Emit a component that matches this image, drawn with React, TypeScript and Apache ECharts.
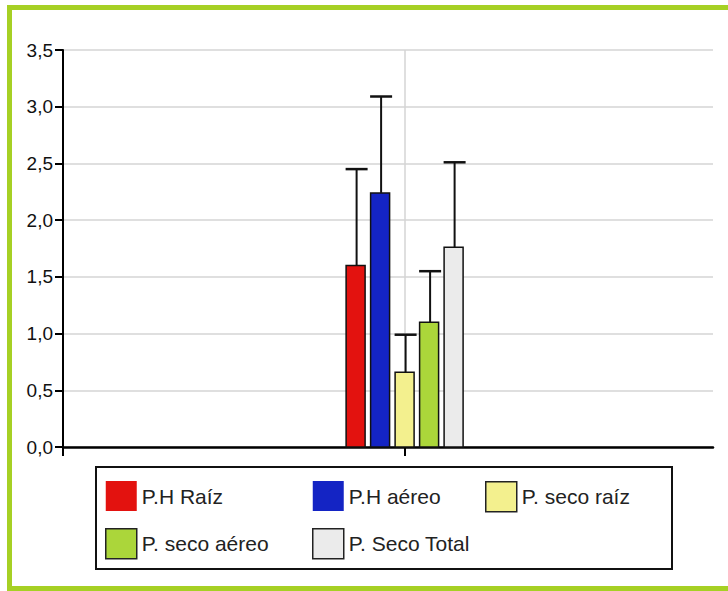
import React, { useEffect, useRef } from 'react';
import * as echarts from 'echarts';

// ---- data ----
const seriesNames = ['P.H Raíz', 'P.H aéreo', 'P. seco raíz', 'P. seco aéreo', 'P. Seco Total'];
const groupPosition = [1]; // the single group's place on the x scale
const means = [1.6, 2.24, 0.66, 1.1, 1.76];
const upperErrors = [0.85, 0.85, 0.33, 0.45, 0.75];
const yMin = 0;
const yMax = 3.5;
const yStep = 0.5;
const colors = ['#e3120f', '#1424c4', '#f3f08e', '#abd63a', '#ebebeb'];
const legendBordered = [false, false, true, true, true];
const legendColumns = [
  ['P.H Raíz', 'P. seco aéreo'],
  ['P.H aéreo', 'P. Seco Total'],
  ['P. seco raíz'],
];

const FONT = 'Liberation Sans, Arial, sans-serif';
const BAR_W = 19;
const STEP = 24.5;
const CAP = 22;

export default function App() {
  const ref = useRef<HTMLDivElement>(null);
  useEffect(() => {
    if (!ref.current) return;
    const chart = echarts.init(ref.current, undefined, { renderer: 'svg' });

    const series = seriesNames.map((name, i) => ({
      name,
      type: 'custom',
      itemStyle: { color: colors[i] },
      encode: { x: 0, y: 1 },
      data: groupPosition.map((g) => [g, means[i], upperErrors[i]]),
      renderItem: (_params: any, api: any) => {
        const x = api.value(0) as number;
        const v = api.value(1) as number;
        const e = api.value(2) as number;
        const base = api.coord([x, 0]);
        const topY = api.coord([x, v])[1];
        const errY = api.coord([x, v + e])[1];
        const cx = base[0] + (i - 2) * STEP - 0.5;
        const ex = cx + 1;
        return {
          type: 'group',
          children: [
            {
              type: 'line',
              shape: { x1: ex, y1: topY, x2: ex, y2: errY },
              style: { stroke: '#111', lineWidth: 2 },
            },
            {
              type: 'line',
              shape: { x1: ex - CAP / 2, y1: errY, x2: ex + CAP / 2, y2: errY },
              style: { stroke: '#111', lineWidth: 2.5 },
            },
            {
              type: 'rect',
              shape: { x: cx - BAR_W / 2, y: topY, width: BAR_W, height: base[1] - topY },
              style: { fill: colors[i], stroke: '#111', lineWidth: 1.5 },
            },
          ],
        };
      },
    }));

    const legendLefts = [105, 312, 485];
    const legends = legendColumns.map((col, c) => ({
      show: true,
      orient: 'vertical',
      left: legendLefts[c],
      top: 481,
      padding: 0,
      itemGap: 17,
      itemWidth: 31,
      itemHeight: 30,
      icon: 'rect',
      selectedMode: false,
      textStyle: { fontSize: 21, color: '#222', fontFamily: FONT },
      data: col.map((name) => {
        const idx = seriesNames.indexOf(name);
        return {
          name,
          itemStyle: legendBordered[idx]
            ? { borderColor: '#222', borderWidth: 1.5 }
            : { borderWidth: 0 },
        };
      }),
    }));

    chart.setOption({
      animation: false,
      backgroundColor: '#ffffff',
      textStyle: { fontFamily: FONT },
      grid: { left: 63, right: 15, top: 50, bottom: 144, containLabel: false },
      xAxis: {
        type: 'value',
        min: 0,
        max: 1.9,
        interval: 1,
        axisLabel: { show: false },
        axisLine: { show: true, lineStyle: { color: '#000', width: 2.5 } },
        axisTick: {
          show: true,
          customValues: [0, 1],
          length: 9,
          lineStyle: { color: '#000', width: 2 },
        },
        splitLine: { show: true, lineStyle: { color: '#d4d4d4', width: 1.5 } },
      },
      yAxis: {
        type: 'value',
        min: yMin,
        max: yMax,
        interval: yStep,
        axisLine: { show: true, lineStyle: { color: '#000', width: 2 } },
        axisTick: { show: true, length: 8, lineStyle: { color: '#000', width: 2 } },
        axisLabel: {
          margin: 10,
          fontSize: 19,
          color: '#111',
          fontFamily: FONT,
          formatter: (v: number) => v.toFixed(1).replace('.', ','),
        },
        splitLine: { show: true, lineStyle: { color: '#d4d4d4', width: 1.5 } },
      },
      legend: legends,
      graphic: [
        {
          type: 'rect',
          z: -10,
          silent: true,
          shape: { x: 9.5, y: 7.5, width: 740, height: 581 },
          style: { fill: 'none', stroke: '#a6d024', lineWidth: 5 },
        },
        {
          type: 'rect',
          silent: true,
          shape: { x: 96, y: 467, width: 576, height: 102 },
          style: { fill: 'none', stroke: '#111', lineWidth: 2 },
        },
      ],
      series,
    });

    return () => chart.dispose();
  }, []);

  return (
    <div
      ref={ref}
      style={{ position: 'absolute', left: 0, top: 0, width: 728, height: 591 }}
    />
  );
}
